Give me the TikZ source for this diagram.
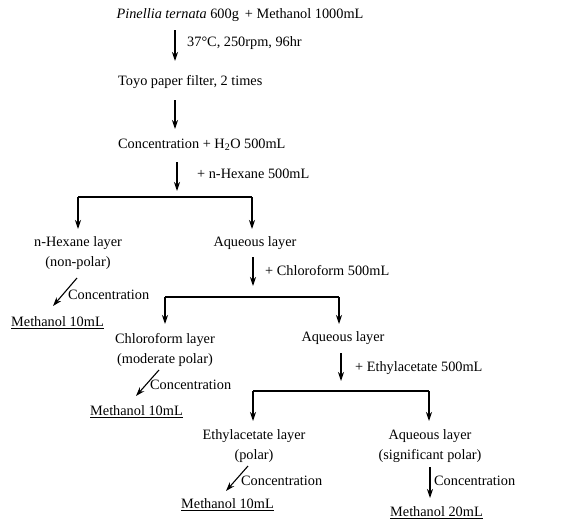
\documentclass[tikz,border=0pt]{standalone}
\usepackage{fontspec}
\setmainfont{Liberation Serif}
\usetikzlibrary{arrows.meta}
\begin{document}
\begin{tikzpicture}[x=1pt,y=-1pt,
  txt/.style={inner sep=0pt,font=\fontsize{14.3}{20}\selectfont,align=center},
  lft/.style={txt,anchor=west},
  arr/.style={line width=1.1pt,-{Stealth[length=9pt,width=6pt]}},
  bar/.style={line width=1.4pt}]
\useasboundingbox (0,0) rectangle (563,522);
% texts
\node[txt] (t1) at (240,15) {\textit{Pinellia ternata} 600g\, + Methanol 1000mL};
\node[lft] (l1) at (187,43) {37°C, 250rpm, 96hr};
\node[lft] (t2) at (118,82) {Toyo paper filter, 2 times};
\node[lft] (t3) at (118,145) {Concentration + H\textsubscript{2}O 500mL};
\node[lft] (l3) at (197,174) {+ n-Hexane 500mL};
\node[txt] (t4a) at (78,253) {n-Hexane layer\\(non-polar)};
\node[txt] (t4b) at (255,243) {Aqueous layer};
\node[lft] (l4) at (265,271) {+ Chloroform 500mL};
\node[lft] (c1) at (68,295) {Concentration};
\node[lft] (m1) at (11,323) {\underline{Methanol 10mL}};
\node[txt] (t5a) at (165,350) {Chloroform layer\\(moderate polar)};
\node[txt] (t5b) at (343,338) {Aqueous layer};
\node[lft] (l5) at (355,368) {+ Ethylacetate 500mL};
\node[lft] (c2) at (150,385) {Concentration};
\node[lft] (m2) at (90,412) {\underline{Methanol 10mL}};
\node[txt] (t6a) at (254,446) {Ethylacetate layer\\(polar)};
\node[txt] (t6b) at (430,446) {Aqueous layer\\(significant polar)};
\node[lft] (c3) at (241,481) {Concentration};
\node[lft] (m3) at (181,505) {\underline{Methanol 10mL}};
\node[lft] (c4) at (434,481) {Concentration};
\node[lft] (m4) at (390,513) {\underline{Methanol 20mL}};
% arrow coordinates
\coordinate (a1s) at (175,30);  \coordinate (a1e) at (175,61);
\coordinate (a2s) at (175,100); \coordinate (a2e) at (175,129);
\coordinate (a3s) at (177,162); \coordinate (a3e) at (177,191);
\coordinate (b1l) at (78,197);  \coordinate (b1r) at (252,197);
\coordinate (e1l) at (78,229);  \coordinate (e1r) at (252,229);
\coordinate (a4s) at (253,257); \coordinate (a4e) at (253,286);
\coordinate (d1s) at (77,278);  \coordinate (d1e) at (53,306);
\coordinate (b2l) at (165,297); \coordinate (b2r) at (339,297);
\coordinate (e2l) at (165,324); \coordinate (e2r) at (339,324);
\coordinate (a5s) at (341,353); \coordinate (a5e) at (341,381);
\coordinate (d2s) at (159,370); \coordinate (d2e) at (136,396);
\coordinate (b3l) at (253,391); \coordinate (b3r) at (429,391);
\coordinate (e3l) at (253,421); \coordinate (e3r) at (429,421);
\coordinate (d3s) at (248,466); \coordinate (d3e) at (226,491);
\coordinate (a6s) at (430,467); \coordinate (a6e) at (430,498);
% connectors
\draw[arr] (a1s) -- (a1e);
\draw[arr] (a2s) -- (a2e);
\draw[arr] (a3s) -- (a3e);
\draw[bar] (b1l) -- (b1r);
\draw[arr] (b1l) -- (e1l);
\draw[arr] (b1r) -- (e1r);
\draw[arr] (a4s) -- (a4e);
\draw[arr] (d1s) -- (d1e);
\draw[bar] (b2l) -- (b2r);
\draw[arr] (b2l) -- (e2l);
\draw[arr] (b2r) -- (e2r);
\draw[arr] (a5s) -- (a5e);
\draw[arr] (d2s) -- (d2e);
\draw[bar] (b3l) -- (b3r);
\draw[arr] (b3l) -- (e3l);
\draw[arr] (b3r) -- (e3r);
\draw[arr] (d3s) -- (d3e);
\draw[arr] (a6s) -- (a6e);
\end{tikzpicture}
\end{document}
